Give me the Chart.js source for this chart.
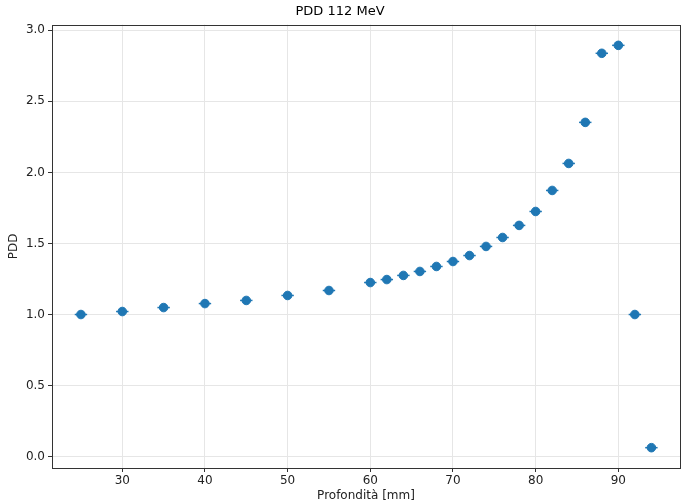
<!DOCTYPE html>
<html>
<head>
<meta charset="utf-8">
<script src="https://cdn.jsdelivr.net/npm/chart.js@4"></script>
<style>
  html, body { margin: 0; padding: 0; background: #fff; }
  #wrap { width: 683px; height: 503px; }
</style>
</head>
<body>
<div id="wrap"><canvas id="pdd" width="683" height="503"></canvas></div>
<script>
// --- DATA ---
const depthMm = [25, 30, 35, 40, 45, 50, 55, 60, 62, 64, 66, 68, 70, 72, 74, 76, 78, 80, 82, 84, 86, 88, 90, 92, 94];
const pddValues = [1.00, 1.021, 1.049, 1.077, 1.099, 1.134, 1.169, 1.225, 1.246, 1.275, 1.303, 1.338, 1.373, 1.415, 1.479, 1.542, 1.627, 1.725, 1.873, 2.063, 2.352, 2.838, 2.894, 1.00, 0.063];
const depthErr = 0.75;
const xTicks = [30, 40, 50, 60, 70, 80, 90];
const yTicks = [0.0, 0.5, 1.0, 1.5, 2.0, 2.5, 3.0];

const blue = '#1f77b4';

// --- HORIZONTAL ERROR BARS + FULL FRAME ---
const errorBars = {
    id: 'errorBars',
    beforeDatasetsDraw(chart) {
        const { ctx, scales: { x, y } } = chart;
        ctx.save();
        ctx.strokeStyle = blue;
        ctx.lineWidth = 1.5;
        depthMm.forEach((d, i) => {
            const py = y.getPixelForValue(pddValues[i]);
            ctx.beginPath();
            ctx.moveTo(x.getPixelForValue(d - depthErr), py);
            ctx.lineTo(x.getPixelForValue(d + depthErr), py);
            ctx.stroke();
        });
        ctx.restore();
    },
    afterDraw(chart) {
        const { ctx, chartArea: a } = chart;
        ctx.save();
        ctx.strokeStyle = '#333';
        ctx.lineWidth = 1;
        ctx.strokeRect(Math.round(a.left) + 0.5, Math.round(a.top) + 0.5,
            Math.round(a.right - a.left), Math.round(a.bottom - a.top));
        ctx.restore();
    }
};

const tickFont = { family: 'DejaVu Sans', size: 12 };

new Chart(document.getElementById('pdd').getContext('2d'), {
    type: 'scatter',
    data: {
        datasets: [{
            label: 'PDD',
            data: depthMm.map((d, i) => ({ x: d, y: pddValues[i] })),
            backgroundColor: blue,
            borderColor: blue,
            pointRadius: 4.3,
            pointHoverRadius: 4.3
        }]
    },
    options: {
        responsive: false,
        animation: false,
        layout: { autoPadding: false, padding: { left: 0, right: 3, top: 0, bottom: 0 } },
        plugins: {
            legend: { display: false },
            tooltip: { enabled: false },
            title: {
                display: true,
                text: 'PDD 112 MeV',
                color: '#000',
                font: { family: 'DejaVu Sans', size: 13, weight: 'normal' },
                padding: { top: 4, bottom: 5 }
            }
        },
        scales: {
            x: {
                type: 'linear',
                min: 21.5,
                max: 97.46,
                afterBuildTicks: s => { s.ticks = xTicks.map(v => ({ value: v })); },
                afterFit: s => { s.height = 35; s.paddingRight = 0; },
                grid: { color: '#e6e6e6', tickColor: '#333', tickLength: 4 },
                border: { display: false },
                ticks: { color: '#222', font: tickFont, padding: 2 },
                title: { display: true, text: 'Profondità [mm]', color: '#222', font: tickFont, padding: { top: 0, bottom: 0 } }
            },
            y: {
                type: 'linear',
                min: -0.08,
                max: 3.04,
                afterBuildTicks: s => { s.ticks = yTicks.map(v => ({ value: v })); },
                afterFit: s => { s.width = 52; },
                grid: { color: '#e6e6e6', tickColor: '#333', tickLength: 4 },
                border: { display: false },
                ticks: { color: '#222', font: tickFont, padding: 3, callback: v => v.toFixed(1) },
                title: { display: true, text: 'PDD', color: '#222', font: tickFont, padding: { top: 7, bottom: 0 } }
            }
        }
    },
    plugins: [errorBars]
});
</script>
</body>
</html>
